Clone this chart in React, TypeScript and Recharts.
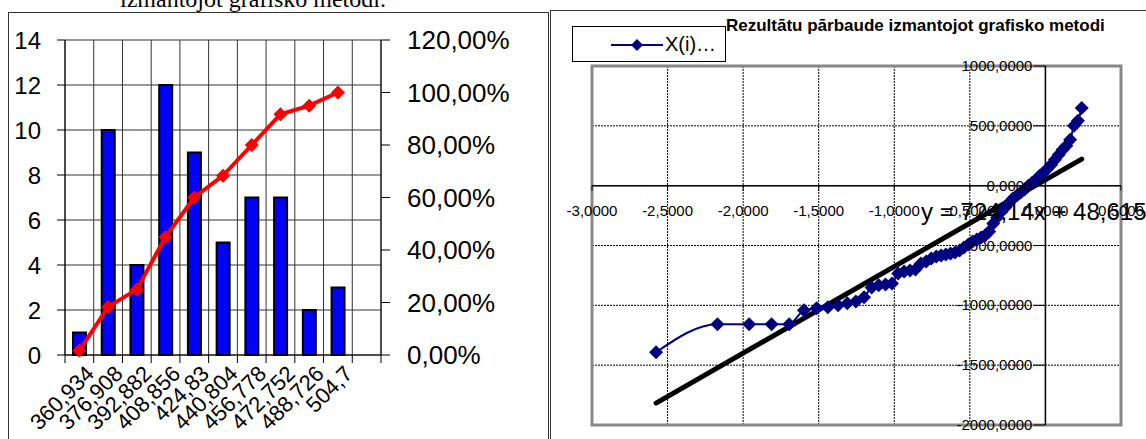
import React from 'react';
import {
  ComposedChart,
  Bar,
  Line,
  XAxis,
  YAxis,
  CartesianGrid,
  ReferenceLine,
  ReferenceArea
} from 'recharts';

// histogram bins (upper bin edges) and their frequencies
const binLabels = ['360,934', '376,908', '392,882', '408,856', '424,83', '440,804', '456,778', '472,752', '488,726', '504,7', ''];
const binCounts = [1, 10, 4, 12, 9, 5, 7, 7, 2, 3, null];
const cumulativePct = [1.67, 18.33, 25, 45, 60, 68.33, 80, 91.67, 95, 100, null];
const countTicks = [0, 2, 4, 6, 8, 10, 12, 14];
const pctTicks = [0, 20, 40, 60, 80, 100, 120];

// normal scores and the ordered X(i) values
const zScores = [
  -2.576, -2.17, -1.96, -1.812, -1.695, -1.598, -1.514, -1.44, -1.372, -1.311,
  -1.254, -1.2, -1.15, -1.103, -1.058, -1.015, -0.974, -0.935, -0.896, -0.86,
  -0.824, -0.789, -0.755, -0.722, -0.69, -0.659, -0.628, -0.598, -0.568, -0.539,
  -0.51, -0.482, -0.454, -0.426, -0.399, -0.372, -0.345, -0.319, -0.292, -0.266,
  -0.24, -0.215, -0.189, -0.164, -0.138, -0.113, -0.088, -0.063, -0.038, -0.013,
  0.013, 0.038, 0.063, 0.088, 0.113, 0.138, 0.164, 0.189, 0.215, 0.24
];
const xiValues = [
  -1392, -1158, -1158, -1158, -1158, -1042, -1025, -1017, -1000, -983,
  -967, -933, -850, -833, -825, -817, -733, -717, -708, -700,
  -650, -633, -608, -592, -583, -575, -567, -558, -542, -517,
  -492, -467, -450, -433, -417, -383, -317, -267, -217, -183,
  -142, -108, -83, -58, -33, 0, 25, 50, 83, 108,
  142, 175, 217, 258, 300, 333, 383, 500, 542, 650
];
const zTicks = [-3, -2.5, -2, -1.5, -1, -0.5, 0, 0.5];
const xiTicks = [-2000, -1500, -1000, -500, 0, 500, 1000];
const TREND_SLOPE = 724.14;
const TREND_INTERCEPT = 48.615;

const histData = binLabels.map((bin, i) => ({ bin, count: binCounts[i], pct: cumulativePct[i] }));
const xiData = zScores.map((z, i) => ({ z, xi: xiValues[i] }));
const trendData = [zScores[0], zScores[zScores.length - 1]].map(z => ({
  z,
  fit: TREND_SLOPE * z + TREND_INTERCEPT
}));

const comma = (v: number, digits: number) => v.toFixed(digits).replace('.', ',');

// left chart geometry
const H_W = 547;
const H_H = 439;
const H_MARGIN = { top: 40, right: 36, bottom: 0, left: 0 };
const H_YW = 65;
const H_YRW = 130;
const H_XH = 84;
const H_PLOT_W = H_W - H_MARGIN.left - H_MARGIN.right - H_YW - H_YRW;
const H_AXIS_Y = H_H - H_MARGIN.bottom - H_XH;
const H_BAND = H_PLOT_W / binLabels.length;

// right chart geometry (axes are 1px wide, labels are drawn at the zero crossings)
const P_W = 596;
const P_H = 439;
const P_MARGIN = { top: 66, right: 25, bottom: 13, left: 41 };
const P_AXIS = 1;
const P_LEFT = P_MARGIN.left + P_AXIS;
const P_TOP = P_MARGIN.top;
const P_PLOT_W = P_W - P_LEFT - P_MARGIN.right;
const P_PLOT_H = P_H - P_TOP - P_MARGIN.bottom - P_AXIS;
const P_ZERO_X = P_LEFT + P_PLOT_W * (0 - zTicks[0]) / (zTicks[zTicks.length - 1] - zTicks[0]);
const P_ZERO_Y = P_TOP + P_PLOT_H * (xiTicks[xiTicks.length - 1] - 0) / (xiTicks[xiTicks.length - 1] - xiTicks[0]);

const FONT = '"Liberation Sans", Arial, sans-serif';

const Diamond = (props: any) => {
  const { cx, cy, r, fill } = props;
  if (cx == null || cy == null) return null;
  return (
    <polygon
      points={`${cx},${cy - r} ${cx + r},${cy} ${cx},${cy + r} ${cx - r},${cy}`}
      fill={fill}
    />
  );
};

const BinTick = (props: any) => {
  const { x, payload, index } = props;
  const tx = x + 5;
  const ty = H_AXIS_Y + 9;
  return (
    <g>
      {index === 0 && (
        <line x1={x - H_BAND / 2} y1={H_AXIS_Y} x2={x - H_BAND / 2} y2={H_AXIS_Y + 8} stroke="#000" />
      )}
      <line x1={x + H_BAND / 2} y1={H_AXIS_Y} x2={x + H_BAND / 2} y2={H_AXIS_Y + 8} stroke="#000" />
      <text
        x={tx}
        y={ty}
        dy="0.71em"
        textAnchor="end"
        fontSize={22}
        fill="#000"
        fontFamily={FONT}
        transform={`rotate(-45 ${tx} ${ty})`}
      >
        {payload.value}
      </text>
    </g>
  );
};

const ZTick = (props: any) => {
  const { x, payload } = props;
  return (
    <g>
      <line x1={x} y1={P_ZERO_Y} x2={x} y2={P_ZERO_Y + 5} stroke="#000" />
      <text x={x} y={P_ZERO_Y + 30} textAnchor="middle" fontSize={15} fill="#000" fontFamily={FONT}>
        {comma(payload.value, 4)}
      </text>
    </g>
  );
};

const XiTick = (props: any) => {
  const { y, payload } = props;
  return (
    <g>
      <line x1={P_ZERO_X - 12} y1={y} x2={P_ZERO_X} y2={y} stroke="#000" />
      <text x={P_ZERO_X - 13} y={y + 5} textAnchor="end" fontSize={15} fill="#000" fontFamily={FONT}>
        {comma(payload.value, 4)}
      </text>
    </g>
  );
};

function Histogram() {
  return (
    <ComposedChart width={H_W} height={H_H} data={histData} margin={H_MARGIN}>
      <CartesianGrid
        stroke="#333"
        verticalCoordinatesGenerator={({ offset }: any) =>
          binLabels.map((_, i) => offset.left + i * (offset.width / binLabels.length)).concat(offset.left + offset.width)
        }
      />
      <XAxis
        dataKey="bin"
        interval={0}
        height={H_XH}
        tickLine={false}
        axisLine={{ stroke: '#000' }}
        tick={<BinTick />}
      />
      <YAxis
        domain={[0, 14]}
        ticks={countTicks}
        width={H_YW}
        tickSize={8}
        tickMargin={16}
        axisLine={{ stroke: '#000' }}
        tickLine={{ stroke: '#000' }}
        tick={{ fontSize: 24, fill: '#000', fontFamily: FONT }}
      />
      <YAxis
        yAxisId="pct"
        orientation="right"
        domain={[0, 120]}
        ticks={pctTicks}
        width={H_YRW}
        tickSize={9}
        tickMargin={17}
        axisLine={{ stroke: '#000' }}
        tickLine={{ stroke: '#000' }}
        tickFormatter={(v: number) => `${comma(v, 2)}%`}
        tick={{ fontSize: 26, fill: '#000', fontFamily: FONT, textAnchor: 'start' }}
      />
      <Bar dataKey="count" barSize={13} fill="#0000ff" stroke="#000" strokeWidth={2} isAnimationActive={false} />
      <Line
        yAxisId="pct"
        dataKey="pct"
        type="linear"
        stroke="#ff0000"
        strokeWidth={4}
        dot={<Diamond r={7} fill="#ff0000" />}
        activeDot={false}
        isAnimationActive={false}
      />
    </ComposedChart>
  );
}

function ProbabilityPlot() {
  return (
    <ComposedChart width={P_W} height={P_H} margin={P_MARGIN}>
      <CartesianGrid stroke="#000" strokeDasharray="2 1" />
      <XAxis
        dataKey="z"
        type="number"
        domain={[zTicks[0], zTicks[zTicks.length - 1]]}
        ticks={zTicks}
        interval={0}
        allowDataOverflow
        height={P_AXIS}
        axisLine={false}
        tickLine={false}
        tick={<ZTick />}
      />
      <YAxis
        type="number"
        domain={[xiTicks[0], xiTicks[xiTicks.length - 1]]}
        ticks={xiTicks}
        interval={0}
        allowDataOverflow
        width={P_AXIS}
        axisLine={false}
        tickLine={false}
        tick={<XiTick />}
      />
      <ReferenceLine y={0} stroke="#000" strokeWidth={1.5} />
      <ReferenceLine x={0} stroke="#000" strokeWidth={1.5} />
      <ReferenceArea
        x1={zTicks[0]}
        x2={zTicks[zTicks.length - 1]}
        y1={xiTicks[0]}
        y2={xiTicks[xiTicks.length - 1]}
        fill="none"
        stroke="#888"
        strokeWidth={3}
      />
      <Line
        data={xiData}
        dataKey="xi"
        type="monotone"
        stroke="#000080"
        strokeWidth={2}
        dot={<Diamond r={7} fill="#000080" />}
        activeDot={false}
        isAnimationActive={false}
      />
      <Line
        data={trendData}
        dataKey="fit"
        type="linear"
        stroke="#000"
        strokeWidth={5}
        strokeLinecap="round"
        dot={false}
        activeDot={false}
        isAnimationActive={false}
      />
    </ComposedChart>
  );
}

export default function App() {
  return (
    <div
      style={{
        position: 'absolute',
        left: 0,
        top: 0,
        width: 1146,
        height: 439,
        overflow: 'hidden',
        background: '#fff',
        fontFamily: FONT
      }}
    >
      <div
        style={{
          position: 'absolute',
          left: 120,
          top: -13,
          fontFamily: '"Liberation Serif", "Times New Roman", serif',
          fontSize: 24,
          lineHeight: '24px',
          whiteSpace: 'nowrap'
        }}
      >
        izmantojot grafisko metodi.
      </div>

      <div style={{ position: 'absolute', left: 8, top: 12, width: 539, height: 440, border: '1px solid #333' }} />
      <div style={{ position: 'absolute', left: 0, top: 0 }}>
        <Histogram />
      </div>

      <div style={{ position: 'absolute', left: 550, top: 10, width: 610, height: 440, border: '1px solid #333' }} />
      <div style={{ position: 'absolute', left: 550, top: 0 }}>
        <ProbabilityPlot />
      </div>

      <div
        style={{
          position: 'absolute',
          left: 726,
          top: 16,
          fontSize: 17,
          fontWeight: 'bold',
          lineHeight: '20px',
          whiteSpace: 'nowrap'
        }}
      >
        Rezultātu pārbaude izmantojot grafisko metodi
      </div>

      <div
        style={{
          position: 'absolute',
          left: 572,
          top: 26,
          width: 152,
          height: 34,
          border: '1px solid #000',
          background: '#fff'
        }}
      >
        <svg width={92} height={34} style={{ position: 'absolute', left: 0, top: 0 }}>
          <line x1={38} y1={18} x2={90} y2={18} stroke="#000080" strokeWidth={2} />
          <polygon points="64,12 70,18 64,24 58,18" fill="#000080" />
        </svg>
        <span style={{ position: 'absolute', left: 92, top: 5, fontSize: 20, lineHeight: '24px', whiteSpace: 'nowrap' }}>
          X(i)…
        </span>
      </div>

      <div
        style={{
          position: 'absolute',
          left: 921,
          top: 200,
          fontSize: 24,
          lineHeight: '24px',
          whiteSpace: 'nowrap'
        }}
      >
        y = 724,14x + 48,615
      </div>
    </div>
  );
}
